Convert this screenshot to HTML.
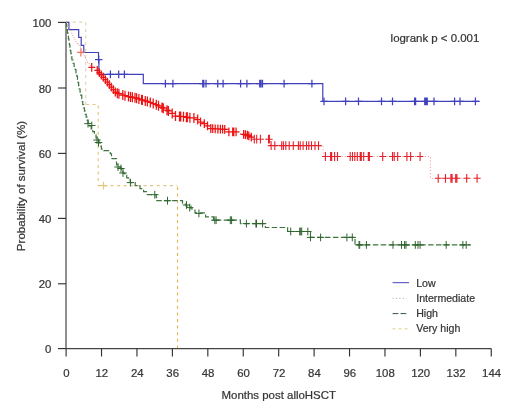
<!DOCTYPE html>
<html><head><meta charset="utf-8"><style>
html,body{margin:0;padding:0;background:#fff;}
svg{display:block;font-family:"Liberation Sans",sans-serif;will-change:transform;}
text{stroke:#3a3a3a;stroke-width:0.22px;}
</style></head><body>
<svg width="520" height="414" viewBox="0 0 520 414">
<rect width="520" height="414" fill="#fff"/>
<g>
<path d="M66 22.40 V348.70" stroke="#1e1e1e" stroke-width="1" fill="none"/>
<path d="M66.10 348.55 H491.26" stroke="#444" stroke-width="1.25" fill="none"/>
<path d="M58 348.6 H66" stroke="#333" stroke-width="1.15"/>
<path d="M58 283.8 H66" stroke="#333" stroke-width="1.15"/>
<path d="M58 218.4 H66" stroke="#333" stroke-width="1.15"/>
<path d="M58 153.4 H66" stroke="#333" stroke-width="1.15"/>
<path d="M58 88.0 H66" stroke="#333" stroke-width="1.15"/>
<path d="M58 22.4 H66" stroke="#333" stroke-width="1.15"/>
<path d="M66.10 348.5 V356.5" stroke="#333" stroke-width="1.15"/>
<path d="M101.53 348.5 V356.5" stroke="#333" stroke-width="1.15"/>
<path d="M136.96 348.5 V356.5" stroke="#333" stroke-width="1.15"/>
<path d="M172.39 348.5 V356.5" stroke="#333" stroke-width="1.15"/>
<path d="M207.82 348.5 V356.5" stroke="#333" stroke-width="1.15"/>
<path d="M243.25 348.5 V356.5" stroke="#333" stroke-width="1.15"/>
<path d="M278.68 348.5 V356.5" stroke="#333" stroke-width="1.15"/>
<path d="M314.11 348.5 V356.5" stroke="#333" stroke-width="1.15"/>
<path d="M349.54 348.5 V356.5" stroke="#333" stroke-width="1.15"/>
<path d="M384.97 348.5 V356.5" stroke="#333" stroke-width="1.15"/>
<path d="M420.40 348.5 V356.5" stroke="#333" stroke-width="1.15"/>
<path d="M455.83 348.5 V356.5" stroke="#333" stroke-width="1.15"/>
<path d="M491.26 348.5 V356.5" stroke="#333" stroke-width="1.15"/>
<text x="51.4" y="353.1" text-anchor="end" font-size="11.4" fill="#333">0</text>
<text x="51.4" y="288.3" text-anchor="end" font-size="11.4" fill="#333">20</text>
<text x="51.4" y="222.9" text-anchor="end" font-size="11.4" fill="#333">40</text>
<text x="51.4" y="157.9" text-anchor="end" font-size="11.4" fill="#333">60</text>
<text x="51.4" y="92.5" text-anchor="end" font-size="11.4" fill="#333">80</text>
<text x="51.4" y="26.9" text-anchor="end" font-size="11.4" fill="#333">100</text>
<text x="66.4" y="377.2" text-anchor="middle" font-size="11.4" fill="#333">0</text>
<text x="101.8" y="377.2" text-anchor="middle" font-size="11.4" fill="#333">12</text>
<text x="137.3" y="377.2" text-anchor="middle" font-size="11.4" fill="#333">24</text>
<text x="172.7" y="377.2" text-anchor="middle" font-size="11.4" fill="#333">36</text>
<text x="208.1" y="377.2" text-anchor="middle" font-size="11.4" fill="#333">48</text>
<text x="243.6" y="377.2" text-anchor="middle" font-size="11.4" fill="#333">60</text>
<text x="279.0" y="377.2" text-anchor="middle" font-size="11.4" fill="#333">72</text>
<text x="314.4" y="377.2" text-anchor="middle" font-size="11.4" fill="#333">84</text>
<text x="349.8" y="377.2" text-anchor="middle" font-size="11.4" fill="#333">96</text>
<text x="385.3" y="377.2" text-anchor="middle" font-size="11.4" fill="#333">108</text>
<text x="420.7" y="377.2" text-anchor="middle" font-size="11.4" fill="#333">120</text>
<text x="456.1" y="377.2" text-anchor="middle" font-size="11.4" fill="#333">132</text>
<text x="491.6" y="377.2" text-anchor="middle" font-size="11.4" fill="#333">144</text>
<text x="278.8" y="399.3" text-anchor="middle" font-size="11.45" fill="#333">Months post alloHSCT</text>
<text transform="translate(24.6,186) rotate(-90)" text-anchor="middle" font-size="11.55" fill="#333">Probability of survival (%)</text>
<text x="390.6" y="41.8" font-size="11.45" fill="#333">logrank p &lt; 0.001</text>
<path d="M392.6 282.7 H409" stroke="#4545c0" stroke-width="1" stroke-dasharray="none" fill="none"/>
<text x="416.2" y="286.5" font-size="10.6" fill="#333">Low</text>
<path d="M392.6 298.4 H406.5" stroke="#b8a0a8" stroke-width="1" stroke-dasharray="1,2.4" fill="none"/>
<text x="416.2" y="301.5" font-size="10.6" fill="#333">Intermediate</text>
<path d="M392.6 313.6 H406.5" stroke="#3b563b" stroke-width="1" stroke-dasharray="5.8,2.1" fill="none"/>
<text x="416.2" y="317.3" font-size="10.6" fill="#333">High</text>
<path d="M392.6 328.8 H408" stroke="#dcd070" stroke-width="1" stroke-dasharray="2.7,3.4" fill="none"/>
<text x="416.2" y="331.7" font-size="10.6" fill="#333">Very high</text>
<path d="M66 22.2 H85.7 V104.5" stroke="#ded6b4" stroke-width="1.2" stroke-dasharray="3,3.6" fill="none"/>
<path d="M86 104.5 H98.2 V185.6 H177.5" stroke="#e4c684" stroke-width="1.2" stroke-dasharray="3,3.6" fill="none"/>
<path d="M177.5 187 V348" stroke="#e2b85a" stroke-width="1.2" stroke-dasharray="3,3.6" fill="none"/>
<path d="M99.80 185.60H107.20M103.50 181.70V189.50" stroke="#e4c680" stroke-width="1.2" fill="none"/>
<path d="M66 22.4 H68.9 V29.7 H78.7 V37.3 H81.2 V45.3 H83.8 V52.5 H98.5 V59.5 H98.9 V74.4 H143.3 V83.6 H322.8 V101.3 H479.7" stroke="#4141bd" stroke-width="1.2" fill="none"/>
<path d="M95.00 59.50H102.40M98.70 55.60V63.40M106.70 74.40H114.10M110.40 70.50V78.30M115.00 74.40H122.40M118.70 70.50V78.30M120.70 74.40H128.10M124.40 70.50V78.30M161.70 83.60H169.10M165.40 79.70V87.50M169.20 83.60H176.60M172.90 79.70V87.50M199.05 83.60H206.45M202.75 79.70V87.50M200.05 83.60H207.45M203.75 79.70V87.50M202.30 83.60H209.70M206.00 79.70V87.50M214.05 83.60H221.45M217.75 79.70V87.50M219.40 83.60H226.80M223.10 79.70V87.50M236.90 83.60H244.30M240.60 79.70V87.50M243.20 83.60H250.60M246.90 79.70V87.50M256.05 83.60H263.45M259.75 79.70V87.50M257.30 83.60H264.70M261.00 79.70V87.50M258.80 83.60H266.20M262.50 79.70V87.50M280.40 83.60H287.80M284.10 79.70V87.50M308.20 83.60H315.60M311.90 79.70V87.50M320.30 101.30H327.70M324.00 97.40V105.20M341.90 101.30H349.30M345.60 97.40V105.20M354.80 101.30H362.20M358.50 97.40V105.20M377.80 101.30H385.20M381.50 97.40V105.20M388.80 101.30H396.20M392.50 97.40V105.20M410.90 101.30H418.30M414.60 97.40V105.20M411.90 101.30H419.30M415.60 97.40V105.20M421.05 101.30H428.45M424.75 97.40V105.20M422.30 101.30H429.70M426.00 97.40V105.20M423.55 101.30H430.95M427.25 97.40V105.20M430.30 101.30H437.70M434.00 97.40V105.20M450.90 101.30H458.30M454.60 97.40V105.20M456.30 101.30H463.70M460.00 97.40V105.20M471.70 101.30H479.10M475.40 97.40V105.20" stroke="#4141bd" stroke-width="1.25" fill="none"/>
<path d="M66.00 22.40H66.45V26.05H66.90V29.70H67.40V32.73H67.90V35.76H68.40V38.79H68.90V41.82H69.40V44.85H69.90V47.88H70.40V50.91H70.90V53.94H71.40V56.97H71.90V60.00H73.00V63.23H74.10V66.47H75.20V69.70H75.97V72.90H76.73V76.10H77.50V79.30H78.07V82.53H78.63V85.77H79.20V89.00H80.07V92.20H80.93V95.40H81.80V98.60H82.30V101.65H82.80V104.70H83.63V107.90H84.47V111.10H85.30V114.30H86.20V117.20H87.10V120.10H88.00V123.00H89.60V125.90H91.20V128.80H92.80V131.70H94.40V134.85H96.00V138.00H97.50V140.50H99.00V143.00H100.20V146.10H101.40V149.20H103.80V150.60H109.10V150.60H110.30V153.75H111.50V156.90H112.00V158.70H116.50V158.70H116.50V165.00H120.00V168.00H121.50V170.50H123.00V173.00H124.85V175.40H126.70V177.80H128.55V180.20H130.40V182.60H135.20V185.60H140.00V188.60H143.60V191.70H147.30V194.70H156.00V194.70H156.30V197.70H156.60V200.70H182.00V200.70H182.50V204.00H186.00V206.00H191.00V209.00H195.00V212.80H205.40V212.80H205.60V216.80H213.50V216.80H213.50V220.20H240.40V220.20H240.40V223.60H265.40V223.60H265.40V227.50H287.60V227.50H287.60V231.50H310.50V231.50H310.50V237.40H355.00V237.40H355.00V244.90H471.00V244.90" stroke="#3f763f" stroke-width="1.2" stroke-dasharray="5.5,2.4" fill="none"/>
<path d="M84.30 123.60H91.70M88.00 119.70V127.50M88.10 125.50H95.50M91.80 121.60V129.40M93.30 140.00H100.70M97.00 136.10V143.90M94.80 142.50H102.20M98.50 138.60V146.40M114.30 167.00H121.70M118.00 163.10V170.90M117.30 168.50H124.70M121.00 164.60V172.40M119.30 173.00H126.70M123.00 169.10V176.90M126.70 182.60H134.10M130.40 178.70V186.50M151.10 194.70H158.50M154.80 190.80V198.60M163.80 200.70H171.20M167.50 196.80V204.60M182.80 205.00H190.20M186.50 201.10V208.90M186.00 207.60H193.40M189.70 203.70V211.50M195.20 213.40H202.60M198.90 209.50V217.30M211.10 220.20H218.50M214.80 216.30V224.10M212.40 220.20H219.80M216.10 216.30V224.10M226.60 220.20H234.00M230.30 216.30V224.10M227.90 220.20H235.30M231.60 216.30V224.10M242.70 223.60H250.10M246.40 219.70V227.50M252.20 223.60H259.60M255.90 219.70V227.50M252.80 223.60H260.20M256.50 219.70V227.50M258.90 223.60H266.30M262.60 219.70V227.50M287.00 231.50H294.40M290.70 227.60V235.40M296.00 231.50H303.40M299.70 227.60V235.40M297.00 231.50H304.40M300.70 227.60V235.40M298.00 231.50H305.40M301.70 227.60V235.40M304.10 231.50H311.50M307.80 227.60V235.40M306.80 237.40H314.20M310.50 233.50V241.30M316.90 237.40H324.30M320.60 233.50V241.30M343.20 237.40H350.60M346.90 233.50V241.30M348.60 237.40H356.00M352.30 233.50V241.30M355.30 244.90H362.70M359.00 241.00V248.80M356.00 244.90H363.40M359.70 241.00V248.80M362.70 244.90H370.10M366.40 241.00V248.80M389.30 244.90H396.70M393.00 241.00V248.80M397.80 244.90H405.20M401.50 241.00V248.80M400.90 244.90H408.30M404.60 241.00V248.80M402.30 244.90H409.70M406.00 241.00V248.80M411.60 244.90H419.00M415.30 241.00V248.80M414.30 244.90H421.70M418.00 241.00V248.80M416.40 244.90H423.80M420.10 241.00V248.80M442.50 244.90H449.90M446.20 241.00V248.80M459.20 244.90H466.60M462.90 241.00V248.80M462.50 244.90H469.90M466.20 241.00V248.80" stroke="#2f652f" stroke-width="1.0" fill="none"/>
<path d="M66.00 22.40H66.83V24.27H67.67V26.13H68.50V28.00H69.85V30.60H71.20V33.20H72.38V35.38H73.55V37.55H74.73V39.73H75.90V41.90H77.43V44.40H78.97V46.90H80.50V49.40H81.67V51.60H82.83V53.80H84.00V56.00H84.88V57.92H85.75V59.85H86.62V61.78H87.50V63.70H89.75V65.55H92.00V67.40H96.50V69.50H98.25V71.50H100.00V73.50H102.20V76.00H104.40V78.50H106.20V80.75H108.00V83.00H109.70V85.10H111.40V87.20H113.55V89.85H115.70V92.50H118.50V93.60H124.00V95.50H130.00V96.90H135.50V97.90H141.60V99.80H150.50V102.50H156.50V104.80H162.30V107.60H167.50V110.40H172.10V113.30H175.50V116.10H183.50V116.70H189.90V117.80H193.90V117.90H197.70V119.60H200.50V122.00H205.50V124.10H208.10V126.30H210.70V128.50H218.20V129.00H225.10V129.30H228.90V131.80H239.00V131.80H240.20V133.80H247.10V135.00H251.70V137.30H254.00V139.20H270.50V139.20H270.50V145.60H323.10V145.60H323.10V156.50H430.40V156.50H430.40V178.30H481.00V178.30" stroke="#e89898" stroke-width="1" stroke-dasharray="1.1,2.1" fill="none"/>
<path d="M77.10 52.40H84.70M80.90 48.20V56.60" stroke="#f07058" stroke-width="1.2" fill="none"/>
<path d="M88.40 67.40H95.00M91.70 63.00V71.80M94.30 70.41H100.30M97.30 66.01V74.81M96.30 72.70H102.30M99.30 68.30V77.10M98.30 74.98H104.30M101.30 70.58V79.38M100.30 77.25H106.30M103.30 72.85V81.65M102.30 79.62H108.30M105.30 75.22V84.02M104.30 82.12H110.30M107.30 77.72V86.53M106.30 84.61H112.30M109.30 80.21V89.01M108.30 87.08H114.30M111.30 82.68V91.48M110.30 89.54H116.30M113.30 85.14V93.94M112.30 92.01H118.30M115.30 87.61V96.41M114.30 93.13H120.30M117.30 88.13V98.13M115.60 93.74H122.20M118.90 88.74V98.74M119.50 95.09H126.10M122.80 90.09V100.09M121.70 95.73H128.30M125.00 90.73V100.73M125.20 96.55H131.80M128.50 91.55V101.55M127.20 96.99H133.80M130.50 91.99V101.99M129.10 97.34H135.70M132.40 92.34V102.34M131.70 97.81H138.30M135.00 92.81V102.81M133.30 98.24H139.90M136.60 93.24V103.24M135.60 98.96H142.20M138.90 93.96V103.96M138.30 99.80H144.90M141.60 94.80V104.80M139.10 100.04H145.70M142.40 95.04V105.04M142.00 100.92H148.60M145.30 95.92V105.92M144.10 101.56H150.70M147.40 96.56V106.56M147.00 102.44H153.60M150.30 97.44V107.44M149.90 103.53H156.50M153.20 98.53V108.53M153.00 104.72H159.60M156.30 99.72V109.72M155.20 105.77H161.80M158.50 100.77V110.77M158.70 107.46H165.30M162.00 102.46V112.46M160.00 108.14H166.60M163.30 103.14V113.14M163.70 110.13H170.30M167.00 105.13V115.13M165.10 110.97H171.70M168.40 105.97V115.97M168.90 113.38H175.50M172.20 108.38V118.38M172.20 116.10H178.80M175.50 111.10V121.10M176.20 116.40H182.80M179.50 111.40V121.40M177.40 116.49H184.00M180.70 111.49V121.49M180.20 116.70H186.80M183.50 111.70V121.70M183.10 117.20H189.70M186.40 112.20V122.20M184.00 117.35H190.60M187.30 112.35V122.35M186.60 117.80H193.20M189.90 112.80V122.80M190.60 117.90H197.20M193.90 112.90V122.90M194.40 119.60H201.00M197.70 114.60V124.60M197.20 122.00H203.80M200.50 117.60V126.40M201.00 123.60H207.60M204.30 119.20V128.00M204.20 125.79H210.80M207.50 121.39V130.19M207.50 128.51H214.10M210.80 124.11V132.91M209.40 128.63H216.00M212.70 124.23V133.03M211.90 128.80H218.50M215.20 124.40V133.20M214.60 128.98H221.20M217.90 124.58V133.38M217.10 129.10H223.70M220.40 124.70V133.50M219.30 129.19H225.90M222.60 124.79V133.59M221.40 129.28H228.00M224.70 124.88V133.68M225.60 131.80H232.20M228.90 127.40V136.20M229.40 131.80H236.00M232.70 127.40V136.20M230.50 131.80H237.10M233.80 127.40V136.20M232.80 131.80H239.40M236.10 127.40V136.20M240.30 134.39H246.90M243.60 129.99V138.79M242.10 134.70H248.70M245.40 130.30V139.10M244.10 135.15H250.70M247.40 130.75V139.55M245.50 135.85H252.10M248.80 131.45V140.25M248.00 137.10H254.60M251.30 132.70V141.50" stroke="#ee1111" stroke-width="1.25" fill="none"/>
<path d="M251.00 139.20H257.60M254.30 134.80V143.60M253.40 139.20H260.00M256.70 134.80V143.60M257.10 139.20H263.70M260.40 134.80V143.60M265.20 139.20H271.80M268.50 134.80V143.60M266.10 139.20H272.70M269.40 134.80V143.60M267.80 145.60H274.40M271.10 141.20V150.00M271.50 145.60H278.10M274.80 141.20V150.00M278.40 145.60H285.00M281.70 141.20V150.00M280.10 145.60H286.70M283.40 141.20V150.00M282.50 145.60H289.10M285.80 141.20V150.00M285.90 145.60H292.50M289.20 141.20V150.00M290.00 145.60H296.60M293.30 141.20V150.00M295.10 145.60H301.70M298.40 141.20V150.00M296.90 145.60H303.50M300.20 141.20V150.00M299.80 145.60H306.40M303.10 141.20V150.00M303.20 145.60H309.80M306.50 141.20V150.00M305.50 145.60H312.10M308.80 141.20V150.00M308.20 145.60H314.80M311.50 141.20V150.00M311.70 145.60H318.30M315.00 141.20V150.00M315.20 145.60H321.80M318.50 141.20V150.00M322.10 156.50H328.70M325.40 152.10V160.90M327.30 156.50H333.90M330.60 152.10V160.90M328.40 156.50H335.00M331.70 152.10V160.90M331.30 156.50H337.90M334.60 152.10V160.90M334.20 156.50H340.80M337.50 152.10V160.90M346.90 156.50H353.50M350.20 152.10V160.90M349.20 156.50H355.80M352.50 152.10V160.90M351.50 156.50H358.10M354.80 152.10V160.90M354.00 156.50H360.60M357.30 152.10V160.90M356.90 156.50H363.50M360.20 152.10V160.90M358.00 156.50H364.60M361.30 152.10V160.90M360.40 156.50H367.00M363.70 152.10V160.90M365.00 156.50H371.60M368.30 152.10V160.90M366.10 156.50H372.70M369.40 152.10V160.90M379.40 156.50H386.00M382.70 152.10V160.90M389.20 156.50H395.80M392.50 152.10V160.90M390.90 156.50H397.50M394.20 152.10V160.90M394.40 156.50H401.00M397.70 152.10V160.90M403.60 156.50H410.20M406.90 152.10V160.90M407.30 156.50H413.90M410.60 152.10V160.90M416.80 156.50H423.40M420.10 152.10V160.90M434.90 178.30H441.50M438.20 173.90V182.70M442.20 178.30H448.80M445.50 173.90V182.70M447.60 178.30H454.20M450.90 173.90V182.70M448.80 178.30H455.40M452.10 173.90V182.70M452.40 178.30H459.00M455.70 173.90V182.70M453.60 178.30H460.20M456.90 173.90V182.70M463.40 178.30H470.00M466.70 173.90V182.70M473.80 178.30H480.40M477.10 173.90V182.70" stroke="#e8202c" stroke-width="1.1" fill="none"/>
</g>
</svg>
</body></html>
